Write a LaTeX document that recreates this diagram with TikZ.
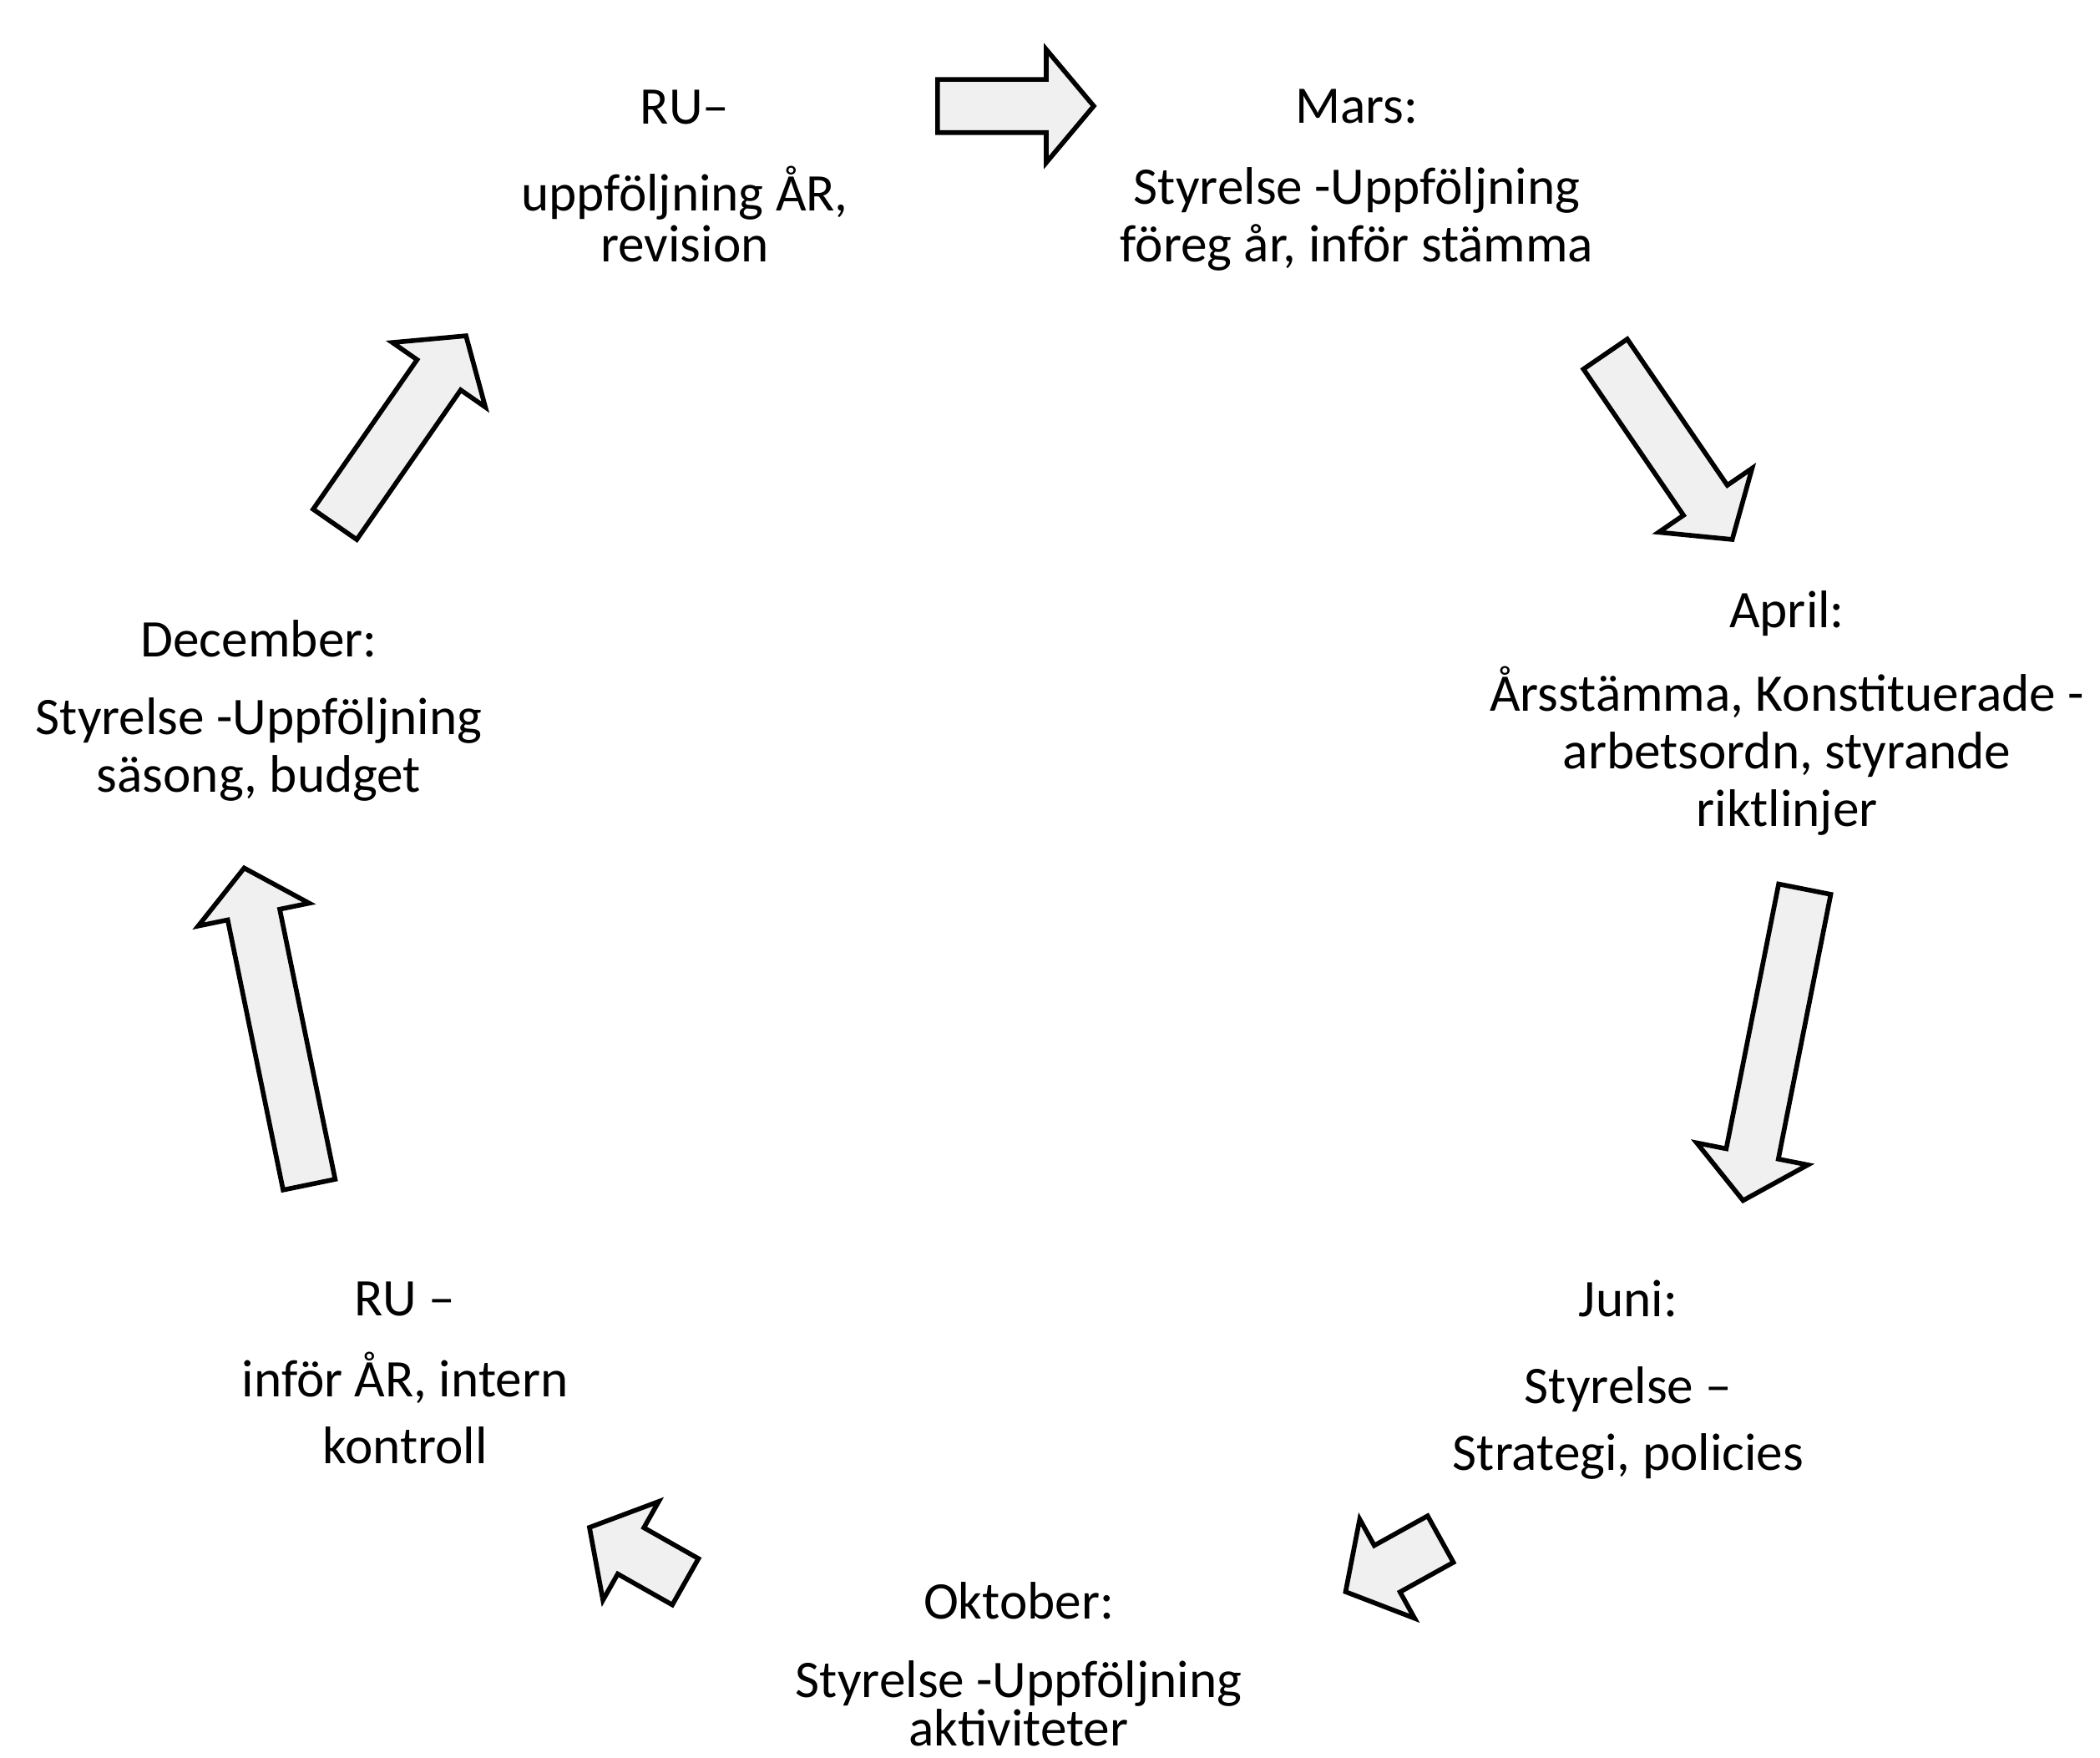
\documentclass[tikz,border=0pt]{standalone}
\usepackage{fontspec}
\setmainfont{Carlito}
\usepackage{tikz}
\usetikzlibrary{shapes.arrows}

\begin{document}
\begin{tikzpicture}[thick,
	month node/.style={align=center,inner sep=0pt,font=\fontsize{18}{19.6}\selectfont},
	block arrow/.style={single arrow,draw=black,fill=gray!12,line width=1.6pt,
		inner sep=0pt,inner ysep=0.29cm,single arrow head extend=0.36cm,
		single arrow tip angle=100}]
	
	\useasboundingbox (0,0) rectangle (25.15,21.05);
	
	\node[month node] (ru1) at (8.20,18.94) {RU--\\[10pt]uppföljning ÅR,\\[-2pt]revision};
	\node[month node] (mars) at (16.25,18.89) {Mars:\\[8pt]Styrelse -Uppföljning\\föreg år, inför stämma};
	\node[month node] (april) at (21.40,12.51) {April:\\[9pt]Årsstämma, Konstituerade -\\arbetsordn, styrande\\riktlinjer};
	\node[month node] (juni) at (19.50,4.53) {Juni:\\[10pt]Styrelse --\\[3pt]Strategi, policies};
	\node[month node] (okt) at (12.20,1.12) {Oktober:\\[7pt]Styrelse -Uppföljning\\[-3pt]aktiviteter};
	\node[month node] (ru2) at (4.85,4.61) {RU --\\[8pt]inför ÅR, intern\\[3pt]kontroll};
	\node[month node] (dec) at (3.10,12.54) {December:\\[7pt]Styrelse -Uppföljning\\säsong, budget};
	
	% pilar mellan manaderna
	\node[block arrow,minimum height=1.87cm] (p1) at (12.03,19.78) {};
	\node[block arrow,minimum height=2.69cm,rotate=-55.6] (p2) at (19.91,15.81) {};
	\node[block arrow,minimum height=3.80cm,rotate=-101.2] (p3) at (21.27,8.67) {};
	\node[block arrow,minimum height=1.30cm,rotate=209] (p4) at (16.80,2.37) {};
	\node[block arrow,minimum height=1.32cm,rotate=150.5] (p5) at (7.75,2.37) {};
	\node[block arrow,minimum height=3.87cm,rotate=101.6] (p6) at (3.34,8.63) {};
	\node[block arrow,minimum height=2.75cm,rotate=55.2] (p7) at (4.72,15.79) {};
	
\end{tikzpicture}
\end{document}
